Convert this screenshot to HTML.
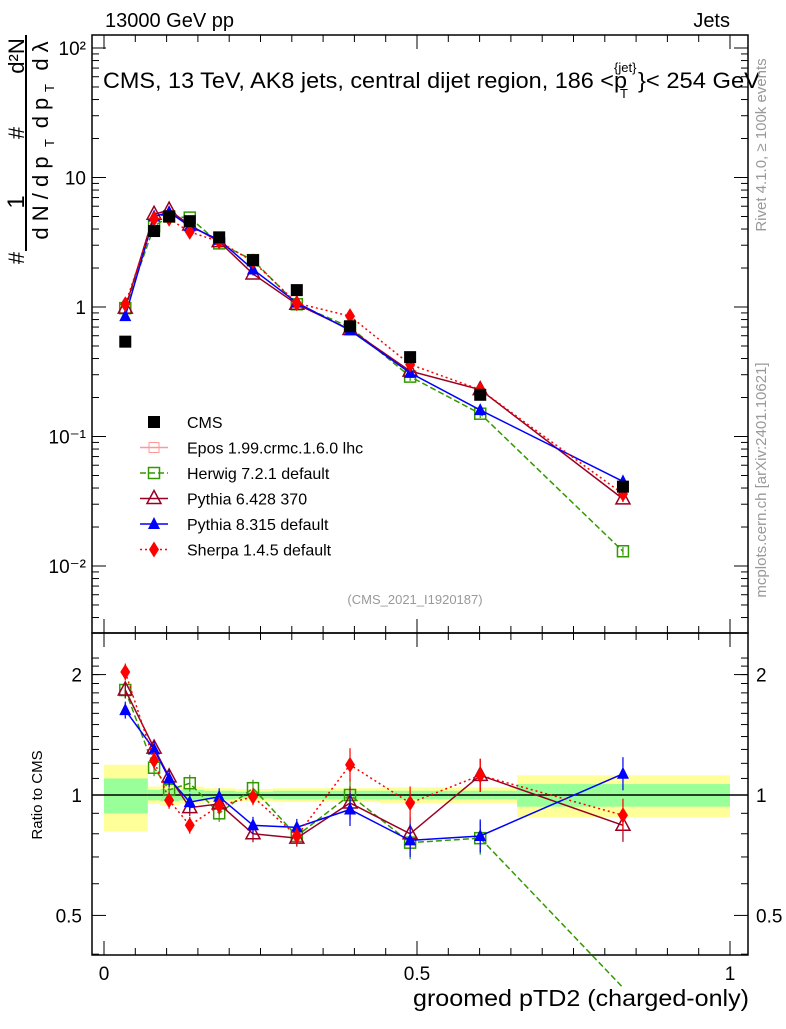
<!DOCTYPE html>
<html><head><meta charset="utf-8"><style>
body{margin:0;background:#fff;font-family:"Liberation Sans",sans-serif}
svg text{font-family:"Liberation Sans",sans-serif}
</style></head><body>
<svg id="c" width="786" height="1024" xmlns="http://www.w3.org/2000/svg"></svg>
<script>
const xs=[0.034,0.080,0.104,0.137,0.184,0.238,0.308,0.393,0.489,0.601,0.829];
const cms=[0.54,3.86,5.0,4.6,3.45,2.3,1.35,0.71,0.41,0.21,0.041];
const herwig=[0.98,4.2,5.0,4.9,3.1,2.3,1.05,0.7,0.29,0.15,0.013];
const py6=[0.98,5.2,5.6,4.3,3.2,1.8,1.05,0.67,0.32,0.23,0.033];
const py8=[0.85,5.0,5.4,4.2,3.3,1.95,1.08,0.66,0.31,0.16,0.045];
const sherpa=[1.05,4.8,4.8,3.8,3.2,2.25,1.07,0.85,0.36,0.23,0.036];
const rHerwig=[1.83,1.17,1.03,1.07,0.90,1.04,0.79,1.0,0.76,0.78,0.33];
const rPy6=[1.83,1.31,1.11,0.93,0.95,0.80,0.78,0.955,0.80,1.12,0.84];
const rPy8=[1.63,1.30,1.10,0.96,0.99,0.84,0.83,0.92,0.77,0.79,1.13];
const rSherpa=[2.03,1.22,0.97,0.84,0.94,0.99,0.79,1.19,0.955,1.12,0.89];
const binEdges=[0,0.07,0.09,0.12,0.16,0.21,0.27,0.35,0.44,0.55,0.66,1.0];
const bandYellow=[0.19,0.05,0.06,0.05,0.04,0.035,0.04,0.04,0.045,0.045,0.12];
const bandGreen=[0.1,0.03,0.035,0.03,0.025,0.02,0.025,0.025,0.025,0.025,0.065];
const yTicksTop=[0.01,0.1,1,10,100];
const yTickLabelsTop=['10⁻²','10⁻¹','1','10','10²'];
const rTicks=[0.5,1,2];
const xTicks=[0,0.5,1];

const L=92,R=748,T=35,M=633,B=955;
const X=v=>104+626*v;
const Y=v=>307-129.5*Math.log10(v);
const RY=v=>795-400*Math.log10(v);
const s=document.getElementById('c');
const NS='http://www.w3.org/2000/svg';
function el(t,a,p){const e=document.createElementNS(NS,t);for(const k in a)e.setAttribute(k,a[k]);(p||s).appendChild(e);return e;}
function tx(x,y,str,size,anchor,fill){const e=el('text',{x:x,y:y,'font-size':size,'text-anchor':anchor||'start',fill:fill||'#000'});e.textContent=str;return e;}
function rtx(x,y,str,size,anchor,fill){const e=tx(0,0,str,size,anchor||'middle',fill);e.setAttribute('transform',`translate(${x},${y}) rotate(-90)`);return e;}

// bands
const bg=el('g',{});


for(let i=0;i<bandYellow.length;i++){
 const x0=X(binEdges[i]),x1=X(binEdges[i+1]);
 el('rect',{x:x0,y:RY(1+bandYellow[i]),width:x1-x0,height:RY(1-bandYellow[i])-RY(1+bandYellow[i]),fill:'#ffff99'},bg);
 el('rect',{x:x0,y:RY(1+bandGreen[i]),width:x1-x0,height:RY(1-bandGreen[i])-RY(1+bandGreen[i]),fill:'#99ff99'},bg);
}
el('line',{x1:L,x2:R,y1:RY(1),y2:RY(1),stroke:'#000','stroke-width':1.5});

// frames
el('rect',{x:L,y:T,width:R-L,height:M-T,fill:'none',stroke:'#000','stroke-width':1.5});
el('rect',{x:L,y:M,width:R-L,height:B-M,fill:'none',stroke:'#000','stroke-width':1.5});

// top y ticks
for(let d=-3;d<=2;d++){for(let m=1;m<10;m++){const v=m*Math.pow(10,d);const y=Y(v);if(y<T||y>M)continue;const len=m==1?14:7;
 el('line',{x1:L,x2:L+len,y1:y,y2:y,stroke:'#000'});el('line',{x1:R,x2:R-len,y1:y,y2:y,stroke:'#000'});}}
yTicksTop.forEach((v,i)=>{const t=tx(L-6,Y(v)+7,yTickLabelsTop[i],19,'end');});
// ratio ticks
[0.4,0.5,0.6,0.7,0.8,0.9,1,2].forEach(v=>{const y=RY(v);if(y<M||y>B)return;const len=(v==0.5||v==1||v==2)?14:7;
 el('line',{x1:L,x2:L+len,y1:y,y2:y,stroke:'#000'});el('line',{x1:R,x2:R-len,y1:y,y2:y,stroke:'#000'});});
for(let v=1.1;v<2.3;v+=0.1){const y=RY(v);if(y<M)continue;el('line',{x1:L,x2:L+7,y1:y,y2:y,stroke:'#000'});el('line',{x1:R,x2:R-7,y1:y,y2:y,stroke:'#000'});}
rTicks.forEach(v=>{tx(L-10,RY(v)+7,String(v),19,'end');tx(R+8,RY(v)+7,String(v),19,'start');});
// x ticks
for(let v=0;v<=1.0001;v+=0.05){const big=Math.abs(v*10-Math.round(v*10))<1e-6&&Math.round(v*10)%5==0;const len=big?14:7;
 [[T,1],[M,1],[M,-1],[B,-1]].forEach(([y0,d])=>el('line',{x1:X(v),x2:X(v),y1:y0,y2:y0+d*len,stroke:'#000'}));}
xTicks.forEach(v=>tx(X(v),980,String(v),19,'middle'));

// texts
tx(105,27,'13000 GeV pp',20);
tx(730,27,'Jets',20,'end');
const tt=tx(103,88,'CMS, 13 TeV, AK8 jets, central dijet region, 186 <p',22);
tt.setAttribute('textLength',524);tt.setAttribute('lengthAdjust','spacingAndGlyphs');

tx(614,72,'{jet}',13);tx(620,98,'T',13);
const t2=tx(638,88,'}< 254 GeV',22);t2.setAttribute('textLength',122);t2.setAttribute('lengthAdjust','spacingAndGlyphs');
tx(415,604,'(CMS_2021_I1920187)',13,'middle','#999');
const xt=tx(413,1006,'groomed pTD2 (charged-only)',23);xt.setAttribute('textLength',336);xt.setAttribute('lengthAdjust','spacingAndGlyphs');

rtx(42,795,'Ratio to CMS',15);
rtx(766,145,'Rivet 4.1.0, ≥ 100k events',15,'middle','#999');
rtx(766,480,'mcplots.cern.ch [arXiv:2401.10621]',15,'middle','#999');
// y title
const yg=el('g',{});
yg.appendChild(rtx(24,258,'#',22));
yg.appendChild(rtx(24,202,'1',24));
yg.appendChild(rtx(24,133,'#',22));
yg.appendChild(rtx(24,56,'d²N',22));
el('line',{x1:26,x2:26,y1:35,y2:251,stroke:'#000','stroke-width':2},yg);
yg.appendChild(rtx(48,198,'d N / d p',22));
yg.appendChild(rtx(54,143,'T',13));
yg.appendChild(rtx(48,113,'d p',22));
yg.appendChild(rtx(54,88,'T',13));
yg.appendChild(rtx(48,56,'d λ',22));

// markers
function marker(kind,x,y,color,p){
 if(kind=='sq')return el('rect',{x:x-6,y:y-6,width:12,height:12,fill:color},p);
 if(kind=='osq')return el('rect',{x:x-5.5,y:y-5.5,width:11,height:11,fill:'none',stroke:color,'stroke-width':1.5},p);
 if(kind=='otri')return el('polygon',{points:`${x},${y-8} ${x-7},${y+5} ${x+7},${y+5}`,fill:'none',stroke:color,'stroke-width':1.5},p);
 if(kind=='tri')return el('polygon',{points:`${x},${y-7} ${x-6},${y+5} ${x+6},${y+5}`,fill:color},p);
 if(kind=='dia')return el('polygon',{points:`${x},${y-8} ${x-5},${y} ${x},${y+8} ${x+5},${y}`,fill:color},p);
}
function series(name,vals,fy,color,dash,kind,err){
 const gg=el('g',{});
 
 
 const pts=[];vals.forEach((v,i)=>{const y=fy(v);if(y>B+200)return;pts.push(X(xs[i])+','+y);});
 if(color!='#000')el('polyline',{points:pts.join(' '),fill:'none',stroke:color,'stroke-width':1.5,'stroke-dasharray':dash},gg);
 vals.forEach((v,i)=>{const x=X(xs[i]),y=fy(v);if(y>B||y<T)return;
  if(err){const e=err*(i>6?2:1);el('line',{x1:x,x2:x,y1:fy(v*(1+e)),y2:fy(v/(1+e)),stroke:color,'stroke-width':1.2},gg);}
  marker(kind,x,y,color,gg);});
}
series('herwig-series',herwig,Y,'#339900','6,3','osq',0.04);
series('pythia6-series',py6,Y,'#990022','','otri',0.03);
series('pythia8-series',py8,Y,'#0000ff','','tri',0.03);
series('sherpa-series',sherpa,Y,'#ff0000','2,3','dia',0.03);
series('cms-series',cms,Y,'#000','','sq',0);
function rseries(n,v,c,d,k){series(n,v,RY,c,d,k,0.05);}
rseries('herwig-ratio',rHerwig,'#339900','6,3','osq');
rseries('pythia6-ratio',rPy6,'#990022','','otri');
rseries('pythia8-ratio',rPy8,'#0000ff','','tri');
rseries('sherpa-ratio',rSherpa,'#ff0000','2,3','dia');

// legend
const lg=el('g',{});
const leg=[['CMS','#000','','sq'],['Epos 1.99.crmc.1.6.0 lhc','#ff9999','','plus'],['Herwig 7.2.1 default','#339900','6,3','osq'],['Pythia 6.428 370','#990022','','otri'],['Pythia 8.315 default','#0000ff','','tri'],['Sherpa 1.4.5 default','#ff0000','2,3','dia']];
leg.forEach((l,i)=>{const y=422+25.5*i;
 if(i>0)el('line',{x1:140,x2:168,y1:y,y2:y,stroke:l[1],'stroke-width':1.5,'stroke-dasharray':l[2]},lg);
 if(l[3]=='plus'){el('rect',{x:149,y:y-5,width:10,height:10,fill:'none',stroke:l[1]},lg);}else marker(l[3],154,y,l[1],lg);
 const t=tx(187,y+6,l[0],16);lg.appendChild(t);});
</script>
</body></html>
